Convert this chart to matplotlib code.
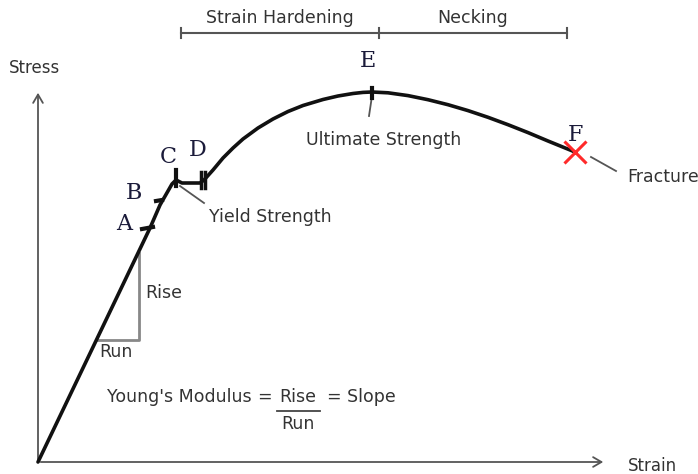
import matplotlib.pyplot as plt

# stress-strain curve, in diagram units (strain to the right, stress upward)
strain = [0, 56, 112, 122, 134, 138, 144, 153, 162, 166, 175, 185, 195, 205, 220,
          235, 250, 265, 285, 300, 315, 325, 334, 350, 370, 390, 410, 430, 450, 470,
          490, 510, 537]
stress = [0, 117, 234, 257, 278, 282, 279, 279, 279, 282, 292, 304, 314, 323, 334,
          343, 350.5, 356.5, 362.5, 366, 368.5, 369.6, 370, 369.2, 366.4, 362.3,
          357.3, 351.4, 344.7, 337.3, 329.4, 321, 310]

point_names = ["A", "B", "C", "D", "E", "F"]
point_strain = [112, 122, 138, 165, 334, 537]
point_stress = [234, 261, 282, 281, 370, 310]

region_names = ["Strain Hardening", "Necking"]
region_edges = [143, 341, 529]

ink = "#111111"
gray = "#555555"
txt = "#333333"
letter_color = "#1b1b3a"
fs = 12.5

fig = plt.figure(figsize=(6.98, 4.74), dpi=100)
ax = fig.add_axes([0, 0, 1, 1])
ax.set_xlim(-38, 660)
ax.set_ylim(-12, 462)
ax.axis("off")

# axes arrows
ax.annotate("", xy=(0, 372), xytext=(0, 0),
            arrowprops=dict(arrowstyle="->,head_length=0.6,head_width=0.35", color=gray, lw=1.3))
ax.annotate("", xy=(568, 0), xytext=(0, 0),
            arrowprops=dict(arrowstyle="->,head_length=0.6,head_width=0.35", color=gray, lw=1.3))
ax.text(-3, 394, "Stress", fontsize=12, color=txt, ha="center", va="center")
ax.text(590, -4, "Strain", fontsize=12, color=txt, ha="left", va="center")

# main curve
ax.plot(strain, stress, color=ink, lw=2.6, solid_capstyle="round",
        solid_joinstyle="round", zorder=3)

# point ticks
ax.plot([104, 115], [233, 235], color=ink, lw=3, zorder=4)           # A
ax.plot([118, 124], [261, 262], color=ink, lw=3, zorder=4)           # B
ax.plot([138, 138], [276, 292], color=ink, lw=3, zorder=4)           # C
ax.plot([163, 163], [274, 290], color=ink, lw=2.5, zorder=4)         # D
ax.plot([167, 167], [274, 290], color=ink, lw=2.5, zorder=4)
ax.plot([334, 334], [364, 374], color=ink, lw=3, zorder=4)           # E
ax.plot(point_strain[5], point_stress[5], marker="x", markersize=16,
        mew=2.2, color="#ff2a2a", zorder=5)                          # F

letter_off = [(-26, 4), (-26, 8), (-8, 23), (-5, 31), (-4, 31), (0, 17)]
for name, s, t, (dx, dy) in zip(point_names, point_strain, point_stress, letter_off):
    ax.text(s + dx, t + dy, name, fontsize=16, family="DejaVu Serif",
            color=letter_color, ha="center", va="center")

# leader labels
ax.plot([142, 166], [276, 259], color=gray, lw=1.3)
ax.text(171, 245, "Yield Strength", fontsize=fs, color=txt, ha="left", va="center")
ax.plot([334, 331], [366, 346], color=gray, lw=1.3)
ax.text(346, 322, "Ultimate Strength", fontsize=fs, color=txt, ha="center", va="center")
ax.plot([553, 578], [305, 291], color=gray, lw=1.3)
ax.text(589, 285, "Fracture", fontsize=fs, color=txt, ha="left", va="center")

# rise / run triangle
ax.plot([59, 101, 101], [122, 122, 209], color="#888888", lw=2)
ax.text(107, 169, "Rise", fontsize=fs, color=txt, ha="left", va="center")
ax.text(61, 110, "Run", fontsize=fs, color=txt, ha="left", va="center")

# Young's modulus formula
ax.text(69, 65, "Young's Modulus", fontsize=fs, color=txt, ha="left", va="center")
ax.text(226, 65, "=", fontsize=fs, color=txt, ha="center", va="center")
ax.text(260, 65, "Rise", fontsize=fs, color=txt, ha="center", va="center")
ax.plot([239, 282], [51, 51], color="#444444", lw=1.3)
ax.text(260, 38, "Run", fontsize=fs, color=txt, ha="center", va="center")
ax.text(289, 65, "= Slope", fontsize=fs, color=txt, ha="left", va="center")

# region brackets on top
ax.plot([region_edges[0], region_edges[-1]], [429, 429], color=gray, lw=1.5)
for e in region_edges:
    ax.plot([e, e], [424, 434], color=gray, lw=1.5)
for name, a, b in zip(region_names, region_edges[:-1], region_edges[1:]):
    ax.text((a + b) / 2, 444, name, fontsize=fs, color=txt, ha="center", va="center")

fig.savefig("out.png", dpi=100, facecolor="white")
